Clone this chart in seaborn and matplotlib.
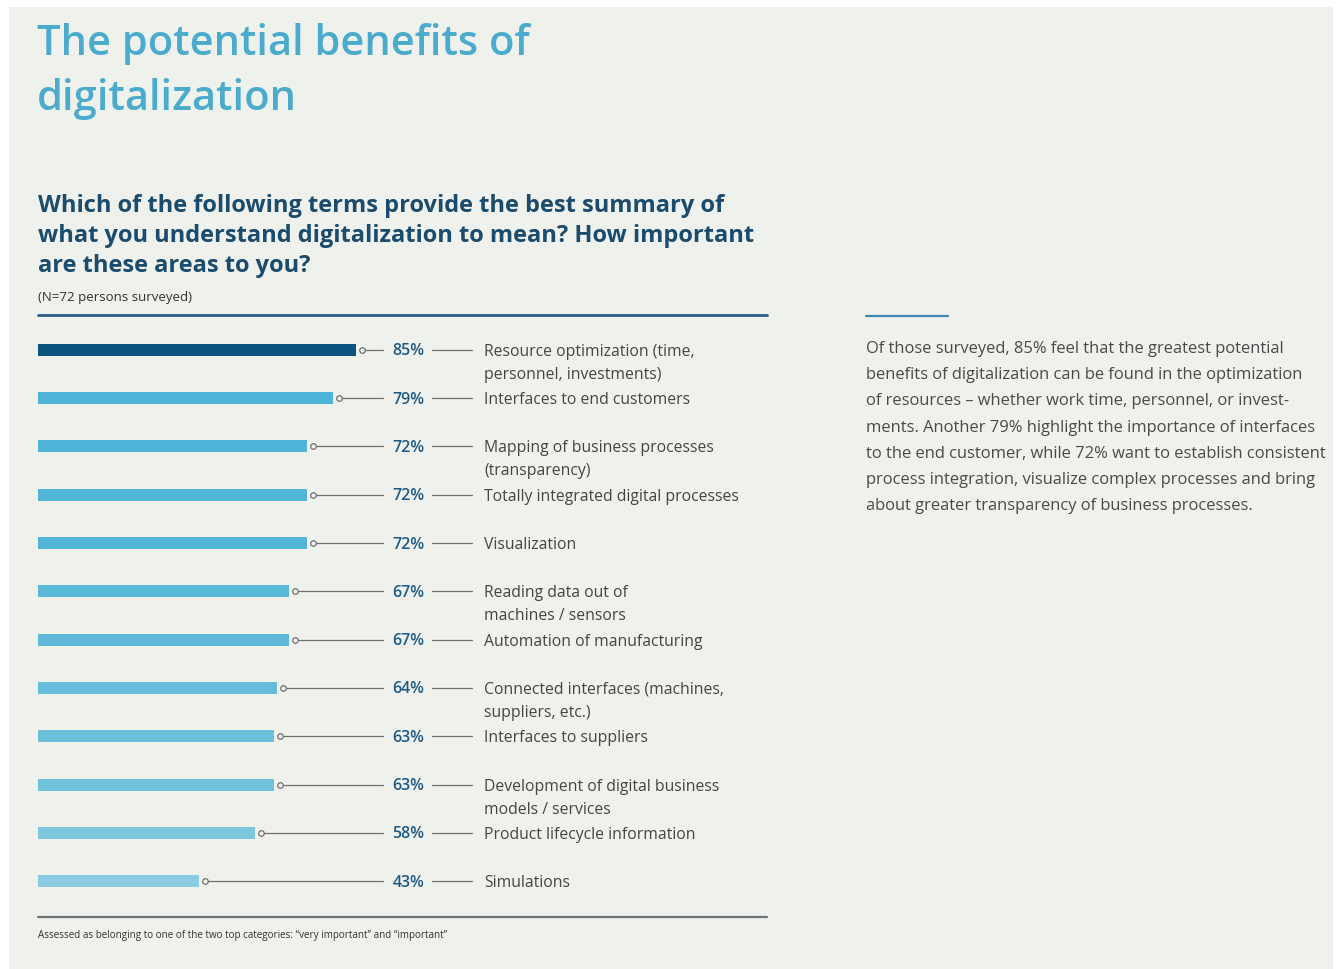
import matplotlib
matplotlib.use("Agg")
import matplotlib.pyplot as plt
import seaborn as sns
import pandas as pd

# Survey data
categories = [
    "Resource optimization (time,\npersonnel, investments)",
    "Interfaces to end customers",
    "Mapping of business processes\n(transparency)",
    "Totally integrated digital processes",
    "Visualization",
    "Reading data out of\nmachines / sensors",
    "Automation of manufacturing",
    "Connected interfaces (machines,\nsuppliers, etc.)",
    "Interfaces to suppliers",
    "Development of digital business\nmodels / services",
    "Product lifecycle information",
    "Simulations",
]
values = [85, 79, 72, 72, 72, 67, 67, 64, 63, 63, 58, 43]
bar_colors = [
    "#0b5480", "#4db4d8", "#4fb4d7", "#50b5d7", "#52b5d7", "#5ab9d9",
    "#5cb9d9", "#66bddb", "#6dc0dc", "#6fc1dc", "#7fc7df", "#8ccce2",
]

title_lines = ["The potential benefits of", "digitalization"]
question = ("Which of the following terms provide the best summary of\n"
            "what you understand digitalization to mean? How important\n"
            "are these areas to you?")
sample_note = "(N=72 persons surveyed)"
footnote = "Assessed as belonging to one of the two top categories: \u201cvery important\u201d and \u201cimportant\u201d"
summary = ("Of those surveyed, 85% feel that the greatest potential\n"
           "benefits of digitalization can be found in the optimization\n"
           "of resources \u2013 whether work time, personnel, or invest-\n"
           "ments. Another 79% highlight the importance of interfaces\n"
           "to the end customer, while 72% want to establish consistent\n"
           "process integration, visualize complex processes and bring\n"
           "about greater transparency of business processes.")

BG = "#eef1ec"
W, H = 1338, 969

sns.set_theme(style="white")
plt.rcParams["font.family"] = ["Open Sans", "DejaVu Sans"]

fig = plt.figure(figsize=(W / 100, H / 100), dpi=100)
fig.patch.set_facecolor("white")

# light panel behind everything
panel = fig.add_axes([9 / W, 0, (1333 - 9) / W, 1 - 7 / H])
panel.set_facecolor(BG)
panel.set_xticks([])
panel.set_yticks([])
for s in panel.spines.values():
    s.set_visible(False)
panel.set_zorder(0)


def fx(px):
    return px / W


def fy(py):
    return 1 - py / H


# chart axes: spans between the two horizontal rules
ax_l, ax_r, ax_t, ax_b = 38, 767, 315, 917
ax = fig.add_axes([fx(ax_l), fy(ax_b), fx(ax_r - ax_l), (ax_b - ax_t) / H])
ax.set_zorder(1)
ax.patch.set_alpha(0)

df = pd.DataFrame({"category": categories, "value": values})
sns.barplot(data=df, x="value", y="category", hue="category",
            palette=bar_colors, legend=False, width=0.25, ax=ax,
            saturation=1, linewidth=0)

xmax = (ax_r - ax_l) / 3.74
ax.set_xlim(0, xmax)
ax.set_ylim(len(categories) - 1 + 0.74, -0.72)
ax.set_xticks([])
ax.set_yticks([])
ax.set_xlabel("")
ax.set_ylabel("")
for s in ax.spines.values():
    s.set_visible(False)

line_col = "#707070"
pct_col = "#1d5a84"
lab_col = "#454545"
lead_end = (383 - ax_l) / 3.74
pct_right = (424 - ax_l) / 3.74
dash_start = (432 - ax_l) / 3.74
dash_end = (472 - ax_l) / 3.74
label_x = (484 - ax_l) / 3.74

for i, (cat, v) in enumerate(zip(categories, values)):
    cx = v + 1.6
    ax.plot([cx, lead_end], [i, i], color=line_col, lw=0.9, zorder=2)
    ax.plot([cx], [i], marker="o", ms=4, mfc=BG, mec=line_col, mew=0.9, zorder=3)
    ax.annotate(f"{v}%", xy=(pct_right, i), xytext=(0, -5.5),
                textcoords="offset pixels", ha="right", va="baseline",
                fontsize=11.5, fontweight="semibold", color=pct_col)
    ax.plot([dash_start, dash_end], [i, i], color=line_col, lw=0.9)
    for k, part in enumerate(cat.split("\n")):
        ax.annotate(part, xy=(label_x, i), xytext=(0, -6 - 23 * k),
                    textcoords="offset pixels", ha="left", va="baseline",
                    fontsize=11.3, color=lab_col)

# horizontal rules
fig.add_artist(plt.Line2D([fx(38), fx(767)], [fy(315), fy(315)],
                          color="#2a5f86", lw=2.0))
fig.add_artist(plt.Line2D([fx(38), fx(767)], [fy(917), fy(917)],
                          color="#707477", lw=1.6))
fig.add_artist(plt.Line2D([fx(866), fx(948)], [fy(316), fy(316)],
                          color="#3f86b3", lw=1.6))

# headings
for k, line in enumerate(title_lines):
    fig.text(fx(37), fy(55 + 55 * k), line, fontsize=30,
             fontweight="semibold", color="#4aabcc", va="baseline")
for k, line in enumerate(question.split("\n")):
    fig.text(fx(38), fy(212 + 30 * k), line, fontsize=17,
             fontweight="bold", color="#1b4b6d", va="baseline")
fig.text(fx(38), fy(301), sample_note, fontsize=9.5, color="#333333",
         va="baseline")
fig.text(fx(38), fy(938), footnote, fontsize=7.1, color="#333333",
         va="baseline")

for k, line in enumerate(summary.split("\n")):
    fig.text(fx(866), fy(353 + 26.2 * k), line, fontsize=11.9,
             color="#4a4a4a", va="baseline")

fig.savefig("out.png", dpi=100, facecolor=fig.get_facecolor())
